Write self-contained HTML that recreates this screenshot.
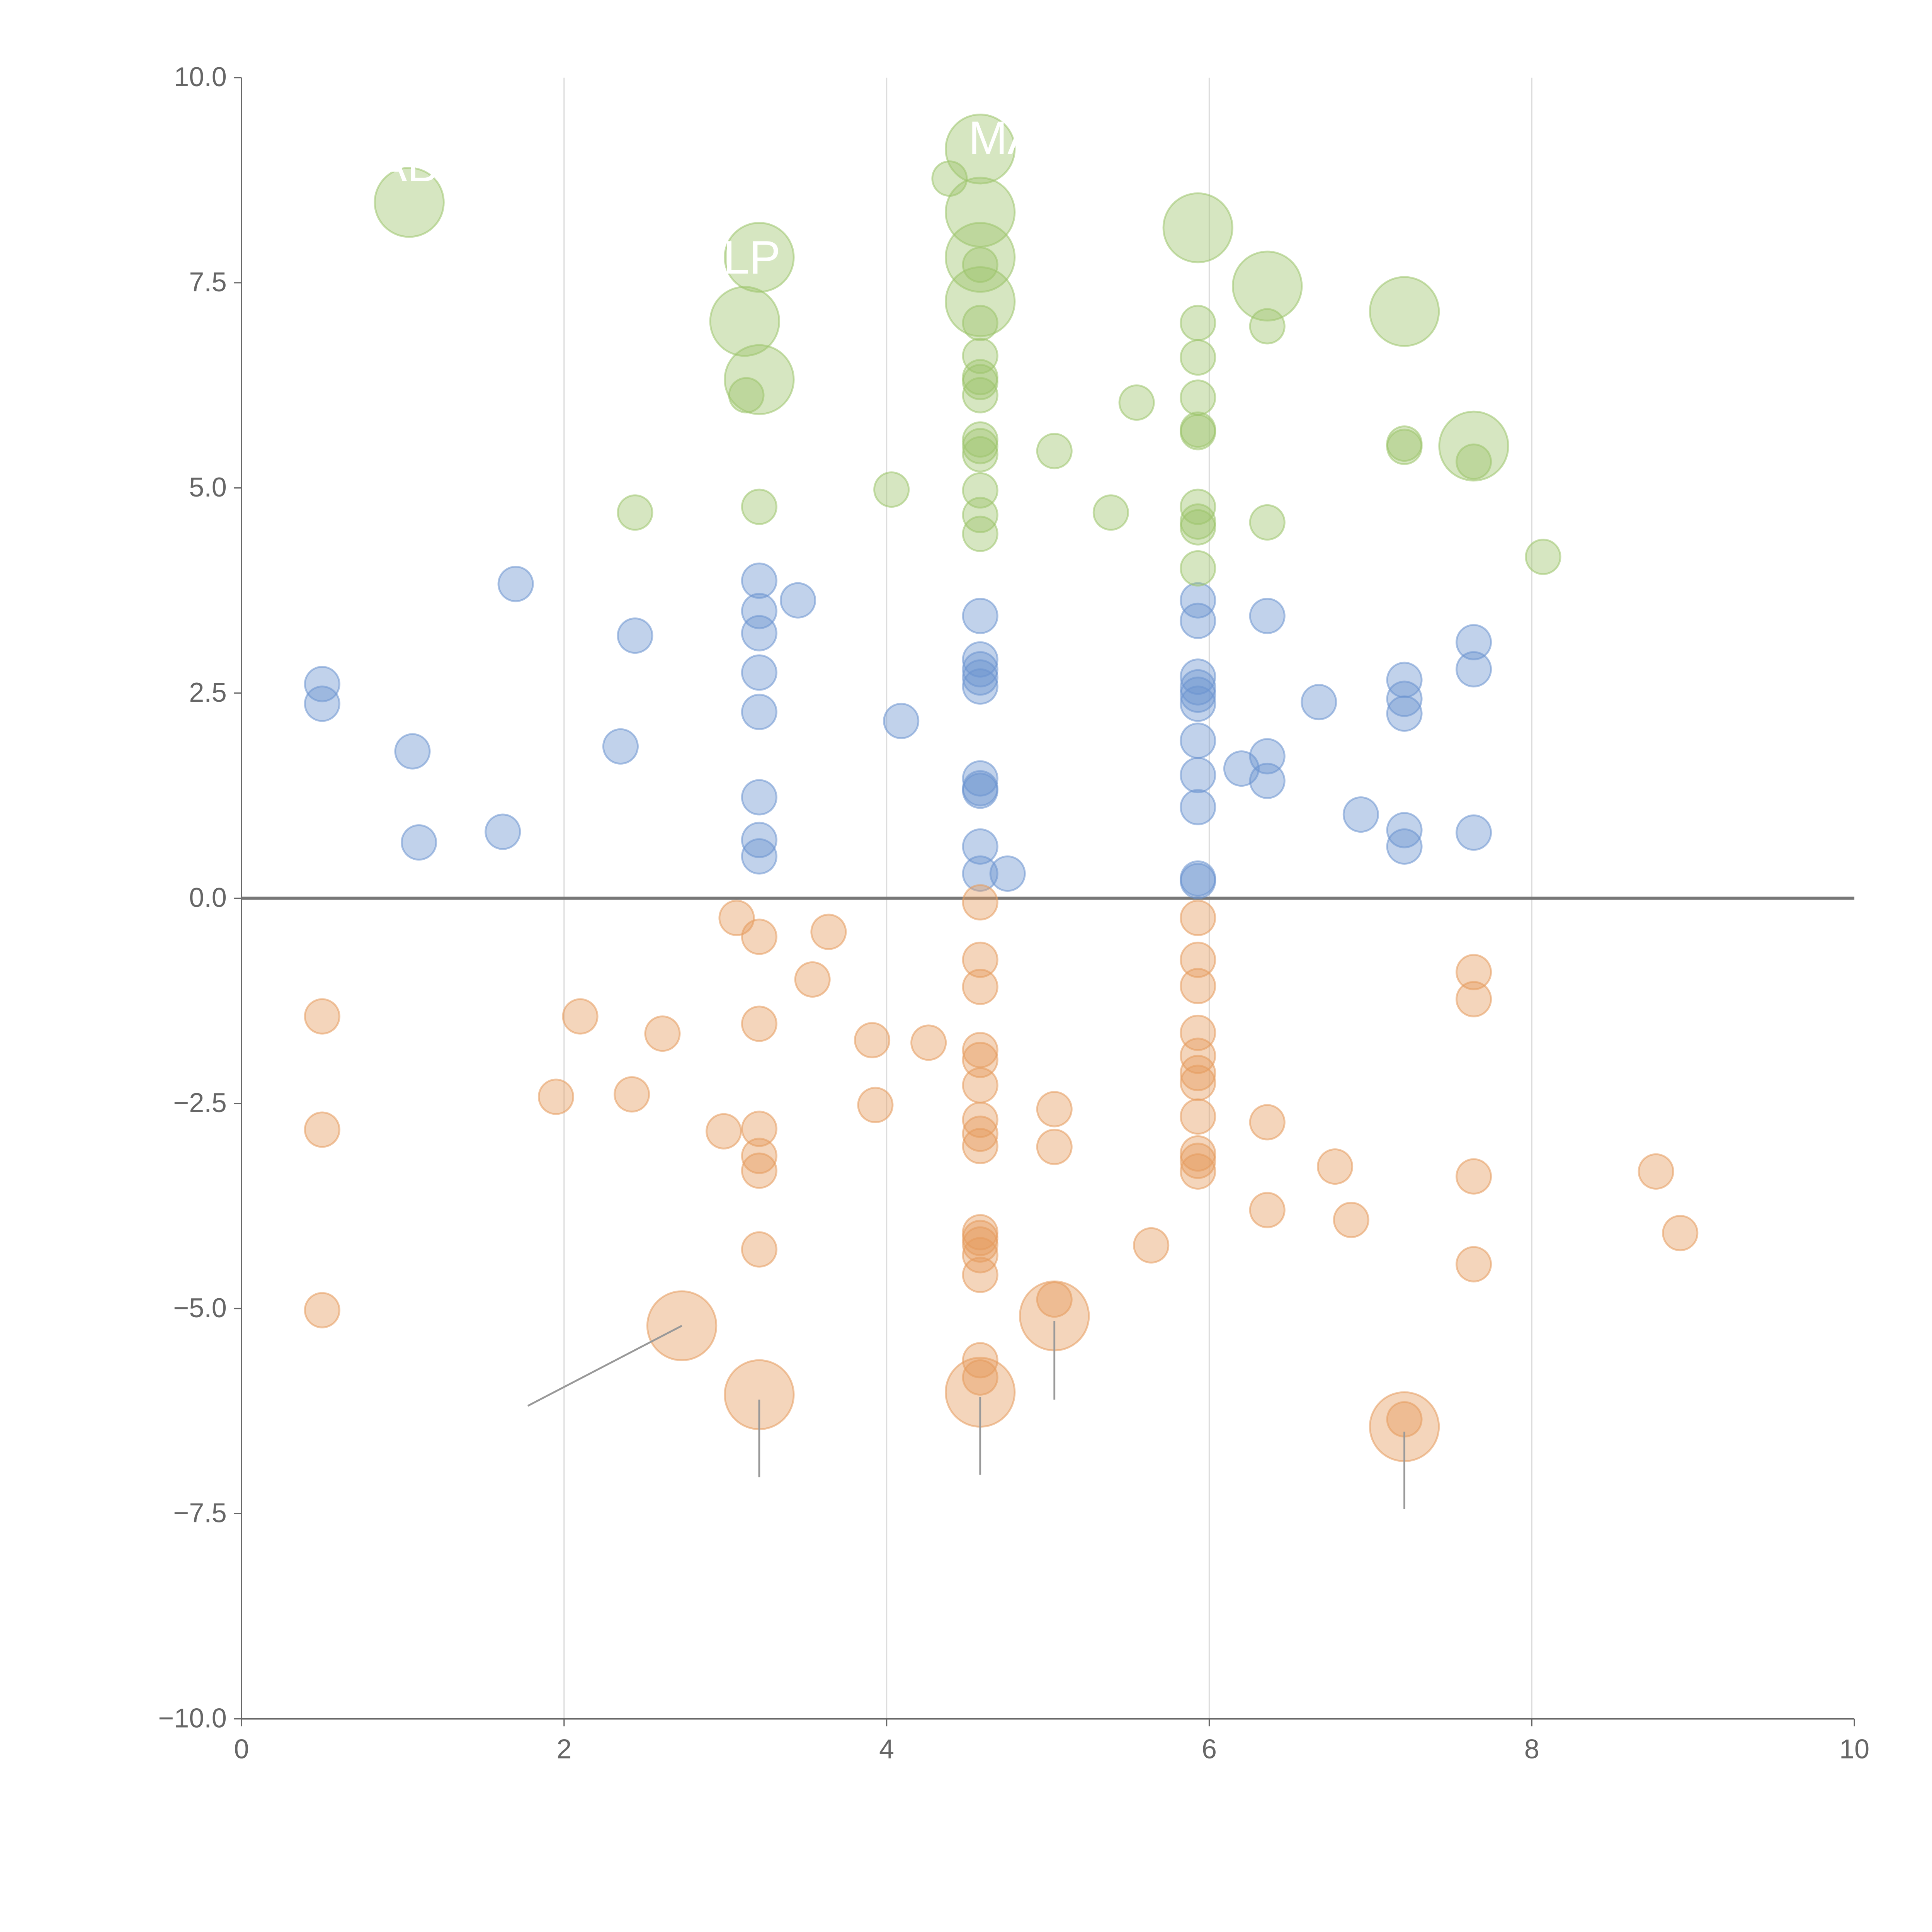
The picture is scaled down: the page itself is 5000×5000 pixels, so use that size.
<!DOCTYPE html>
<html><head><meta charset="utf-8"><style>
html,body{margin:0;padding:0;background:#fff;}
svg{display:block;font-family:"Liberation Sans",Arial,sans-serif;}
</style></head><body>
<svg id="chart" width="5000" height="5000" viewBox="0 0 1568 1568" xmlns="http://www.w3.org/2000/svg">
<g id="grid"></g>
<g id="axes"></g>
<g id="marks"></g>
<g id="labels"></g>
</svg>
<script>
// pixel coords from reference read as data below
const xTicks=[0,2,4,6,8,10];
const yTicks=[-10,-7.5,-5,-2.5,0,2.5,5,7.5,10];
const yTickLabels=["\u221210.0","\u22127.5","\u22125.0","\u22122.5","0.0","2.5","5.0","7.5","10.0"];
const bluePx=[[261,555],[261,571],[335,610],[340,684],[408,675],[418,474],[503,606],[516,516],[616,471],[616,496],[616,514],[616,546],[616,578],[616,647],[616,682],[616,695],[648,487],[731,585],[796,500],[796,535],[796,543],[796,550],[796,557],[796,632],[796,640],[796,642],[796,687],[796,709],[818,709],[972,487],[972,504],[972,549],[972,558],[972,564],[972,571],[972,601],[972,629],[972,655],[972,713],[972,715],[1008,624],[1028,500],[1028,614],[1028,634],[1071,570],[1105,661],[1140,552],[1140,567],[1140,579],[1140,674],[1140,687],[1196,521],[1196,543],[1196,676]];
const orangePx=[[261,825],[261,917],[261,1063],[451,890],[471,825],[513,888],[537,839],[588,918],[598,745],[616,760],[616,831],[616,916],[616,938],[616,950],[616,1014],[659,795],[672,756],[708,844],[711,897],[753,846],[796,732],[796,779],[796,801],[796,852],[796,860],[796,881],[796,909],[796,920],[796,930],[796,1000],[796,1005],[796,1010],[796,1019],[796,1035],[796,1104],[796,1118],[856,900],[856,931],[856,1055],[934,1011],[972,745],[972,779],[972,800],[972,838],[972,857],[972,871],[972,879],[972,906],[972,936],[972,942],[972,951],[1028,911],[1028,982],[1084,947],[1096,990],[1140,1152],[1196,789],[1196,811],[1196,955],[1196,1026],[1344,951],[1364,1001]];
const orangeBigPx=[[553,1076],[616,1132],[796,1130],[856,1068],[1140,1158]];
const greenPx=[[515,416],[616,411],[606,321],[724,397],[770,145],[796,215],[796,262],[796,289],[796,306],[796,310],[796,321],[796,357],[796,362],[796,369],[796,398],[796,418],[796,433],[856,366],[901,416],[923,327],[972,262],[972,290],[972,323],[972,349],[972,351],[972,411],[972,423],[972,428],[972,461],[1028,265],[1028,424],[1140,360],[1140,363],[1196,375],[1252,452]];
const greenBigPx=[[332,164],[616,209],[605,261],[616,308],[796,121],[796,172],[796,209],[796,245],[972,185],[1028,232],[1140,253],[1196,362]];
// convert to data values
const toData=p=>[+((p[0]-196)/130.9).toFixed(2),+((729-p[1])/66.6).toFixed(2)];
const blueX=bluePx.map(p=>toData(p)[0]), blueY=bluePx.map(p=>toData(p)[1]);
const orangeX=orangePx.concat(orangeBigPx).map(p=>toData(p)[0]);
const orangeY=orangePx.concat(orangeBigPx).map(p=>toData(p)[1]);
const orangeSize=orangePx.map(()=>1).concat(orangeBigPx.map(()=>4));
const greenX=greenPx.concat(greenBigPx).map(p=>toData(p)[0]);
const greenY=greenPx.concat(greenBigPx).map(p=>toData(p)[1]);
const greenSize=greenPx.map(()=>1).concat(greenBigPx.map(()=>4));
const blueSize=blueX.map(()=>1);

const X0=196,X1=1505,Y0=1395,Y1=63;
const sx=v=>X0+(v-0)/10*(X1-X0);
const sy=v=>Y0-(v+10)/20*(Y0-Y1);
const NS="http://www.w3.org/2000/svg";
function mk(tag,attrs,parent){const e=document.createElementNS(NS,tag);for(const k in attrs)e.setAttribute(k,attrs[k]);parent.appendChild(e);return e;}
const grid=document.getElementById('grid'),axes=document.getElementById('axes'),marks=document.getElementById('marks'),labels=document.getElementById('labels');

xTicks.forEach(t=>{
  if(t>0&&t<10){const g=mk('line',{x1:sx(t),x2:sx(t),y1:Y1,y2:Y0,stroke:'#dddddd','stroke-width':1},grid);
  
  }
  const tk=mk('line',{x1:sx(t),x2:sx(t),y1:Y0,y2:Y0+6,stroke:'#666','stroke-width':1},axes);
  
  
  const tx=mk('text',{x:sx(t),y:Y0+32,'text-anchor':'middle','font-size':22,fill:'#666'},axes);
  tx.textContent=t;
  
  
});
yTicks.forEach((t,i)=>{
  const tk=mk('line',{x1:X0-6,x2:X0,y1:sy(t),y2:sy(t),stroke:'#666','stroke-width':1},axes);
  
  
  const tx=mk('text',{x:X0-12,y:sy(t)+7,'text-anchor':'end','font-size':22,fill:'#666'},axes);
  tx.textContent=yTickLabels[i];
  
  
});
let a=mk('line',{x1:X0,x2:X0,y1:Y1,y2:Y0,stroke:'#666','stroke-width':1.2},axes);


a=mk('line',{x1:X0,x2:X1,y1:Y0,y2:Y0,stroke:'#666','stroke-width':1.2},axes);


a=mk('line',{x1:X0,x2:X1,y1:sy(0),y2:sy(0),stroke:'#777','stroke-width':2.5},axes);



function series(xs,ys,ss,color,name){
  xs.forEach((x,i)=>{
    const c=mk('circle',{cx:sx(x),cy:sy(ys[i]),r:14*Math.sqrt(ss[i]),fill:color,'fill-opacity':0.42,stroke:color,'stroke-opacity':0.55,'stroke-width':1.5},marks);
    
    
  });
}
series(blueX,blueY,blueSize,'#6b93cf','blue-bubble');
series(orangeX,orangeY,orangeSize,'#e59a5c','orange-bubble');
series(greenX,greenY,greenSize,'#9dc46c','green-bubble');

// leader lines for large orange bubbles
const leaderDx=[-125,0,0,0,0], leaderDy=[65,63,63,64,63];
orangeX.forEach((x,i)=>{
  if(orangeSize[i]<4)return;
  const k=i-orangePx.length;
  const px=sx(x),py=sy(orangeY[i])+(k===0?0:4);
  const l=mk('line',{x1:px,y1:py,x2:px+leaderDx[k],y2:py+leaderDy[k],stroke:'#999','stroke-width':1.5},labels);
  
  
});
[['MA',786,125],['LP',587,222],['AB',305,147]].forEach(d=>{
  const t=mk('text',{x:d[1],y:d[2],'font-size':38,fill:'#ffffff'},labels);
  t.textContent=d[0];
  
  
});
</script>
</body></html>
